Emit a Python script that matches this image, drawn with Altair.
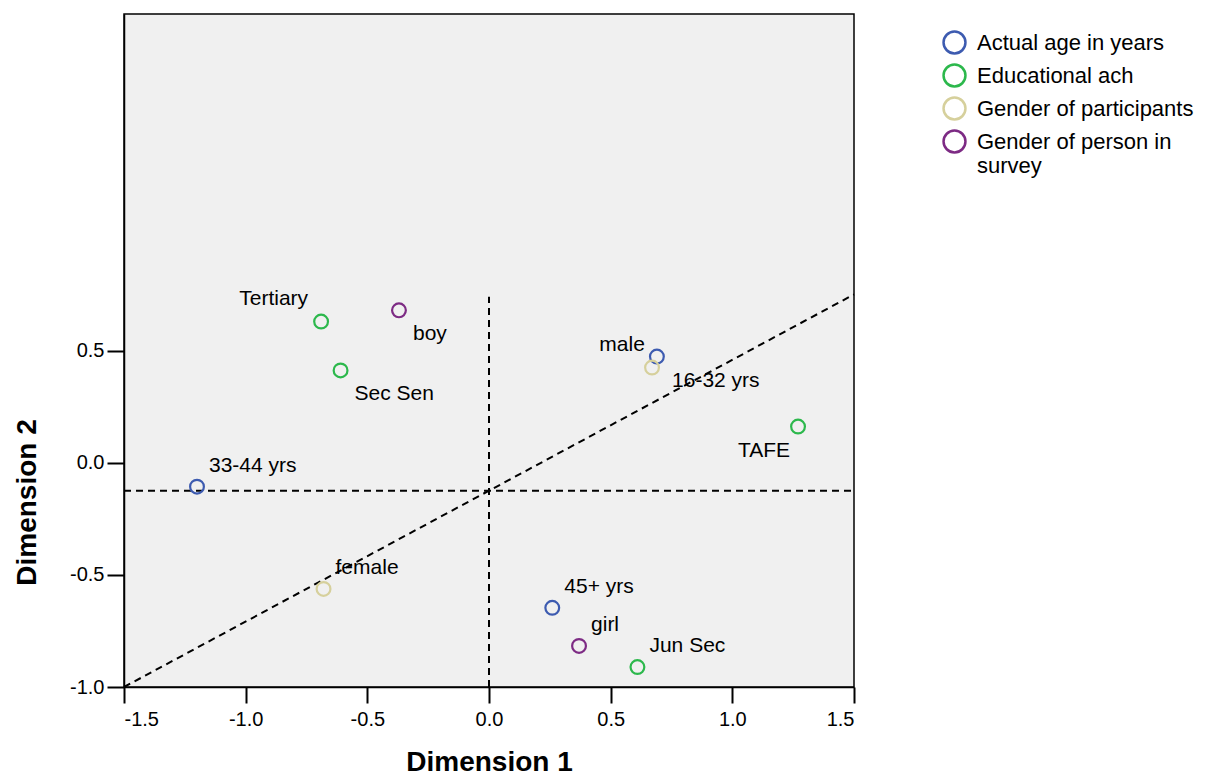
import altair as alt
import pandas as pd

# ---- data ----
labels = ["33-44 yrs", "male", "45+ yrs", "Tertiary", "Sec Sen", "TAFE", "Jun Sec",
          "female", "16-32 yrs", "boy", "girl"]
dim1 = [-1.20, 0.69, 0.26, -0.69, -0.61, 1.27, 0.61, -0.68, 0.67, -0.37, 0.37]
dim2 = [-0.107, 0.473, -0.647, 0.629, 0.411, 0.161, -0.911, -0.563, 0.424, 0.679, -0.817]
groups = (["Actual age in years"] * 3 + ["Educational ach"] * 4 +
          ["Gender of participants"] * 2 + ["Gender of person in survey"] * 2)
placement = ["ur", "l", "ur", "ul", "dr", "dl", "ur", "ur", "r", "dr", "ur"]

group_names = ["Actual age in years", "Educational ach",
               "Gender of participants", "Gender of person in survey"]
group_colors = ["#3d5bb0", "#2cb84c", "#d6d09c", "#7d2b84"]

# dashed reference lines (start / end in data units)
ref_x1 = [0.0, -1.5, -1.5]
ref_x2 = [0.0, 1.5, 1.5]
ref_y1 = [-1.0, -0.125, -1.0]
ref_y2 = [0.74, -0.125, 0.75]

x_ticks = [-1.5, -1.0, -0.5, 0.0, 0.5, 1.0, 1.5]
y_ticks = [-1.0, -0.5, 0.0, 0.5]

pts = pd.DataFrame({"label": labels, "d1": dim1, "d2": dim2,
                    "group": groups, "place": placement})
refs = pd.DataFrame({"x1": ref_x1, "x2": ref_x2, "y1": ref_y1, "y2": ref_y2})

FONT = "Liberation Sans"
LABEL_EXPR = "datum.value < 0 ? '-' + format(-datum.value, '.1f') : format(datum.value, '.1f')"

xscale = alt.Scale(domain=[-1.5, 1.5], nice=False, zero=False)
yscale = alt.Scale(domain=[-1.0, 2.0], nice=False, zero=False)

xaxis = alt.Axis(title="Dimension 1", values=x_ticks, labelExpr=LABEL_EXPR,
                 grid=False, tickSize=16, tickWidth=2, tickColor="black",
                 domainColor="black", domainWidth=1.5, labelFontSize=20,
                 labelColor="black", labelPadding=6, titleFontSize=28,
                 titleFontWeight="bold", titleColor="black",
                 titleY=61, titleBaseline="top",
                 labelFont=FONT, titleFont=FONT)
yaxis = alt.Axis(title="Dimension 2", values=y_ticks, labelExpr=LABEL_EXPR,
                 grid=False, tickSize=17, tickWidth=2, tickColor="black",
                 domainColor="black", domainWidth=1.5, labelFontSize=20,
                 labelColor="black", labelPadding=3, titleFontSize=28,
                 titleFontWeight="bold", titleColor="black",
                 titleX=-83, titleY=488, titleBaseline="bottom", titleAngle=-90,
                 labelFont=FONT, titleFont=FONT)

lines = alt.Chart(refs).mark_rule(color="black", strokeWidth=2,
                                  strokeDash=[7, 5]).encode(
    x=alt.X("x1:Q", scale=xscale, axis=xaxis), x2="x2:Q",
    y=alt.Y("y1:Q", scale=yscale, axis=yaxis), y2="y2:Q")

points = alt.Chart(pts).mark_point(shape="circle", filled=False, strokeWidth=2.2,
                                   size=190, opacity=1).encode(
    x=alt.X("d1:Q", scale=xscale, axis=xaxis),
    y=alt.Y("d2:Q", scale=yscale, axis=yaxis),
    color=alt.Color("group:N",
                    scale=alt.Scale(domain=group_names, range=group_colors),
                    legend=alt.Legend(
                        title=None, orient="none", legendX=818, legendY=16,
                        symbolType="circle", symbolSize=480, symbolStrokeWidth=2.5,
                        labelFontSize=22, labelFont=FONT, labelColor="black",
                        labelLimit=400, rowPadding=0, labelOffset=10,
                        gridAlign="none",
                        labelExpr="datum.label == 'Gender of person in survey' ? ['Gender of person in', 'survey'] : datum.label")))

place_style = {
    "ur": dict(align="left", dx=12, dy=-21),
    "ul": dict(align="right", dx=-13, dy=-23),
    "l": dict(align="right", dx=-12, dy=-12),
    "dr": dict(align="left", dx=14, dy=24),
    "r": dict(align="left", dx=20, dy=13),
    "dl": dict(align="right", dx=-8, dy=24),
}

text_layers = []
for key, st in place_style.items():
    text_layers.append(
        alt.Chart(pts).transform_filter(alt.datum.place == key)
        .mark_text(fontSize=21, font=FONT, color="black", baseline="middle", **st)
        .encode(x=alt.X("d1:Q", scale=xscale, axis=xaxis),
                y=alt.Y("d2:Q", scale=yscale, axis=yaxis),
                text="label:N")
    )

chart = alt.layer(lines, points, *text_layers).properties(
    width=730, height=673,
    autosize=alt.AutoSizeParams(type="none"),
    padding={"left": 116, "top": 6, "right": 360, "bottom": 90},
).configure_view(fill="#f0f0f0", stroke="black", strokeWidth=1.5)

chart.save("out.html", embed_options={"renderer": "svg", "actions": False})
